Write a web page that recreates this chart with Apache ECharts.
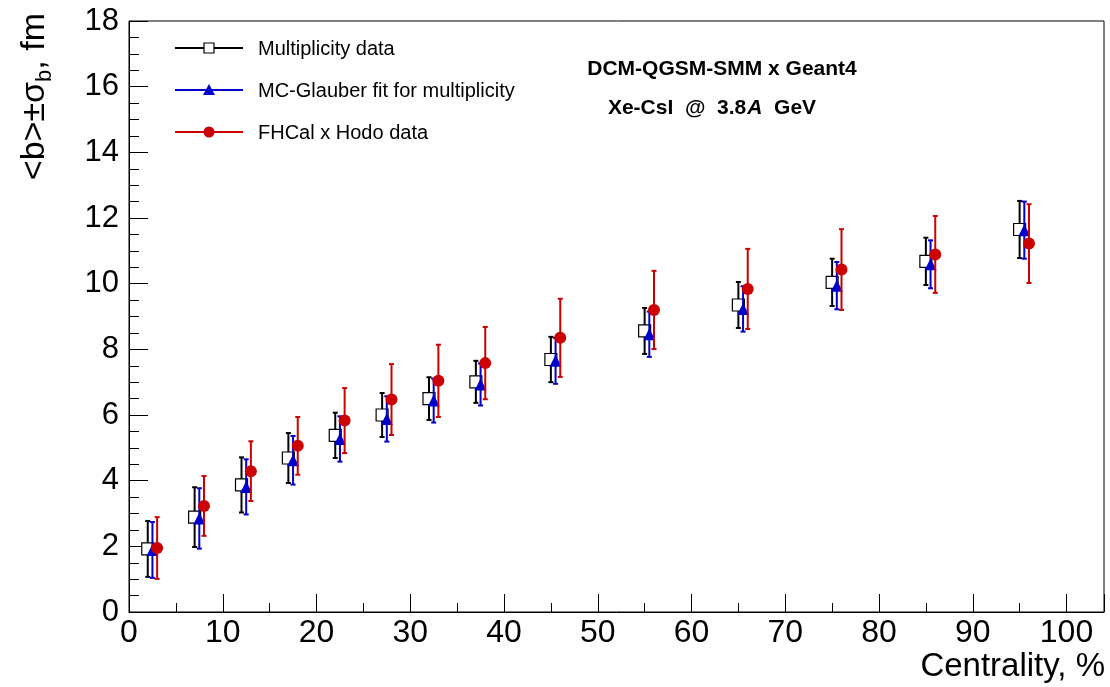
<!DOCTYPE html>
<html>
<head>
<meta charset="utf-8">
<script src="https://cdn.jsdelivr.net/npm/echarts@6/dist/echarts.min.js"></script>
<style>
  html, body { margin: 0; padding: 0; background: #fff; }
  #main { width: 1110px; height: 687px; }
</style>
</head>
<body>
<div id="main"></div>
<script>
// points: centrality (%), <b> (fm), sigma_b (fm)
var multX = [2, 7, 12, 17, 22, 27, 32, 37, 45, 55, 65, 75, 85, 95];
var multY = [1.92, 2.89, 3.87, 4.69, 5.38, 6.00, 6.50, 7.01, 7.69, 8.56, 9.35, 10.04, 10.68, 11.65];
var multErr = [0.85, 0.91, 0.84, 0.76, 0.69, 0.67, 0.65, 0.64, 0.69, 0.70, 0.70, 0.72, 0.72, 0.87];

var glauberX = [2.5, 7.5, 12.5, 17.5, 22.5, 27.5, 32.5, 37.5, 45.5, 55.5, 65.5, 75.5, 85.5, 95.5];
var glauberY = [1.89, 2.85, 3.81, 4.62, 5.27, 5.88, 6.44, 6.93, 7.65, 8.46, 9.23, 9.94, 10.59, 11.63];
var glauberErr = [0.85, 0.92, 0.84, 0.74, 0.69, 0.69, 0.67, 0.64, 0.70, 0.69, 0.69, 0.72, 0.73, 0.87];

var hodoX = [3, 8, 13, 18, 23, 28, 33, 38, 46, 56, 66, 76, 86, 96];
var hodoY = [1.95, 3.23, 4.29, 5.06, 5.83, 6.47, 7.04, 7.58, 8.35, 9.20, 9.84, 10.43, 10.89, 11.22];
var hodoErr = [0.94, 0.91, 0.91, 0.88, 0.99, 1.08, 1.10, 1.10, 1.19, 1.19, 1.22, 1.23, 1.17, 1.20];

var legendNames = ['Multiplicity data', 'MC-Glauber fit for multiplicity', 'FHCal x Hodo data'];

var FONT = 'Liberation Sans, Arial, Helvetica, sans-serif';
var BLACK = '#000000', BLUE = '#0000cc', RED = '#cc0000';

function pts(xs, ys, es) {
    return xs.map(function (x, i) { return es ? [x, ys[i], es[i]] : [x, ys[i]]; });
}

// vertical error bar with small caps
function errBar(color) {
    return function (params, api) {
        var x = api.value(0), y = api.value(1), e = api.value(2);
        var lo = api.coord([x, y - e]);
        var hi = api.coord([x, y + e]);
        var c = 2.5;
        var st = { stroke: color, lineWidth: 2 };
        return {
            type: 'group',
            children: [
                { type: 'line', shape: { x1: lo[0], y1: lo[1], x2: hi[0], y2: hi[1] }, style: st },
                { type: 'line', shape: { x1: lo[0] - c, y1: lo[1], x2: lo[0] + c, y2: lo[1] }, style: st },
                { type: 'line', shape: { x1: hi[0] - c, y1: hi[1], x2: hi[0] + c, y2: hi[1] }, style: st }
            ]
        };
    };
}

var myChart = echarts.init(document.getElementById('main'));

// legend drawn ROOT-like: line - marker - line
var legendY = [48, 90, 132];
var legendGraphics = [];
var legColors = [BLACK, BLUE, RED];
legendY.forEach(function (y, i) {
    legendGraphics.push({ type: 'line', shape: { x1: 175, y1: y, x2: 243, y2: y },
        style: { stroke: legColors[i], lineWidth: 2 } });
    legendGraphics.push({ type: 'text', x: 258, y: y + 1,
        style: { text: legendNames[i], font: '20px ' + FONT, fill: '#000',
            align: 'left', verticalAlign: 'middle' } });
});
legendGraphics.push({ type: 'rect', shape: { x: 204, y: 43, width: 10, height: 10 },
    style: { fill: '#fff', stroke: BLACK, lineWidth: 1.2 } });
legendGraphics.push({ type: 'polygon', shape: { points: [[209, 84], [215, 95], [203, 95]] },
    style: { fill: BLUE } });
legendGraphics.push({ type: 'circle', shape: { cx: 209, cy: 132, r: 5.5 },
    style: { fill: RED } });

var option = {
    backgroundColor: '#fff',
    animation: false,
    grid: {
        left: 129, right: 6, top: 21, bottom: 75,
        show: true, borderColor: '#000', borderWidth: 1, backgroundColor: '#fff'
    },
    xAxis: [{
        type: 'value', min: 0, max: 104, interval: 10,
        axisLine: { show: true, lineStyle: { color: '#000', width: 1 } },
        axisTick: { show: true, inside: true, length: 18, lineStyle: { color: '#000' } },
        axisLabel: {
            fontSize: 32, color: '#000', fontFamily: FONT, margin: 5,
            formatter: function (v) { return (v % 10 === 0 && v <= 100) ? String(v) : ''; }
        },
        splitLine: { show: false }
    }, {
        type: 'value', min: 0, max: 104, interval: 5, position: 'bottom',
        axisLine: { show: false },
        axisTick: { show: true, inside: true, length: 9, lineStyle: { color: '#000' } },
        axisLabel: { show: false },
        splitLine: { show: false }
    }],
    yAxis: {
        type: 'value', min: 0, max: 18, interval: 2,
        axisLine: { show: true, lineStyle: { color: '#000', width: 1 } },
        axisTick: { show: true, inside: true, length: 19, lineStyle: { color: '#000' } },
        minorTick: { show: true, splitNumber: 4, length: 10, lineStyle: { color: '#000' } },
        axisLabel: { fontSize: 31, color: '#000', fontFamily: FONT, margin: 10 },
        splitLine: { show: false },
        minorSplitLine: { show: false }
    },
    graphic: legendGraphics.concat([
        {
            type: 'text', x: 35, y: 13, rotation: Math.PI / 2,
            style: {
                text: '<b>±σ{s|b}, fm',
                align: 'right', verticalAlign: 'middle',
                font: '34px ' + FONT, fill: '#000', lineHeight: 42,
                rich: { s: { fontSize: 22, fontFamily: FONT, lineHeight: 21, verticalAlign: 'bottom' } }
            }
        },
        {
            type: 'text', x: 1105, y: 667,
            style: { text: 'Centrality, %', align: 'right', verticalAlign: 'middle',
                font: '33px ' + FONT, fill: '#000' }
        },
        {
            type: 'text', x: 722, y: 69,
            style: { text: 'DCM-QGSM-SMM x Geant4', align: 'center', verticalAlign: 'middle',
                font: 'bold 21px ' + FONT, fill: '#000' }
        },
        {
            type: 'text', x: 712, y: 108,
            style: { text: 'Xe-CsI  @  3.8{i|A}  GeV', align: 'center', verticalAlign: 'middle',
                font: 'bold 21px ' + FONT, fill: '#000',
                rich: { i: { fontStyle: 'italic', fontWeight: 'bold', fontSize: 21, fontFamily: FONT,
                    padding: [0, 0, 0, 1] } } }
        }
    ]),
    series: [
        {
            name: legendNames[0] + ' err', type: 'custom', z: 1,
            renderItem: errBar(BLACK), data: pts(multX, multY, multErr)
        },
        {
            name: legendNames[0], type: 'scatter', z: 2,
            symbol: 'rect', symbolSize: 12,
            itemStyle: { color: '#fff', borderColor: BLACK, borderWidth: 1.2, opacity: 1 },
            data: pts(multX, multY)
        },
        {
            name: legendNames[1] + ' err', type: 'custom', z: 3,
            renderItem: errBar(BLUE), data: pts(glauberX, glauberY, glauberErr)
        },
        {
            name: legendNames[1], type: 'scatter', z: 4,
            symbol: 'triangle', symbolSize: 12,
            itemStyle: { color: BLUE, opacity: 1 },
            data: pts(glauberX, glauberY)
        },
        {
            name: legendNames[2] + ' err', type: 'custom', z: 5,
            renderItem: errBar(RED), data: pts(hodoX, hodoY, hodoErr)
        },
        {
            name: legendNames[2], type: 'scatter', z: 6,
            symbol: 'circle', symbolSize: 12,
            itemStyle: { color: RED, opacity: 1 },
            data: pts(hodoX, hodoY)
        }
    ]
};

myChart.setOption(option);
</script>
</body>
</html>
